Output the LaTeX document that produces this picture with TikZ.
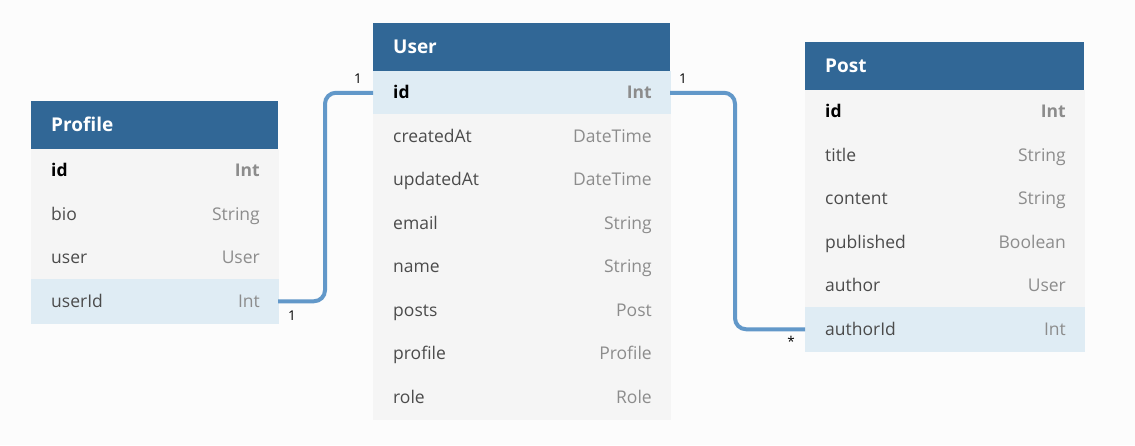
\documentclass[tikz,border=0pt]{standalone}
\usepackage{fontspec}
\setmainfont{Open Sans}
\usetikzlibrary{calc}
\definecolor{hdr}{RGB}{49,103,150}
\definecolor{rowbg}{RGB}{245,245,245}
\definecolor{keybg}{RGB}{223,236,244}
\definecolor{fieldtxt}{RGB}{75,75,75}
\definecolor{typetxt}{RGB}{140,140,140}
\definecolor{link}{RGB}{98,152,201}
\definecolor{canvas}{RGB}{252,252,252}

\tikzset{
  x=1pt, y=-1pt,
  hdrbox/.style={fill=hdr, draw=none, inner sep=0pt, outer sep=0pt, anchor=north west, minimum height=48pt},
  rowbox/.style={fill=rowbg, draw=rowbg, line width=0.6pt, inner sep=0pt, outer sep=0pt, anchor=north west, minimum height=43.5pt},
  keyrow/.style={fill=keybg, draw=keybg},
  titletxt/.style={anchor=west, inner sep=0pt, text=white, font=\bfseries\fontsize{19}{19}\selectfont, text height=13pt, text depth=4pt},
  fieldtxt/.style={anchor=west, inner sep=0pt, text=fieldtxt, font=\fontsize{17.5}{17.5}\selectfont, text height=12.5pt, text depth=4pt},
  typetxt/.style={anchor=east, inner sep=0pt, text=typetxt, font=\fontsize{17.5}{17.5}\selectfont, text height=12.5pt, text depth=4pt},
  idfield/.style={text=black, font=\bfseries\fontsize{17.5}{17.5}\selectfont},
  idtype/.style={font=\bfseries\fontsize{17.5}{17.5}\selectfont},
  relation/.style={draw=link, line width=4pt, rounded corners=11pt},
  card/.style={inner sep=0pt, font=\fontsize{13.5}{13.5}\selectfont, text=black}
}

% \tablehead{name}{x}{y}{width}{title}
\newcommand\tablehead[5]{%
  \node[hdrbox, minimum width=#4pt] (#1) at (#2,#3) {};
  \node[titletxt] (#1-title) at ($(#1.west)+(20,2)$) {#5};
}
% \fieldrow[extra box style]{name}{above}{width}{field}{type}{field style}{type style}
\newcommand\fieldrow[8][]{%
  \node[rowbox, minimum width=#4pt, #1] (#2) at (#3.south west) {};
  \node[fieldtxt, #7] (#2-f) at ($(#2.west)+(20,1.8)$) {#5};
  \node[typetxt, #8] (#2-t) at ($(#2.east)+(-18,1.8)$) {#6};
}

\begin{document}
\begin{tikzpicture}
\fill[canvas] (0,0) rectangle (1135,445);
\useasboundingbox (0,0) rectangle (1135,445);

% Profile
\tablehead{profile}{31}{101}{247}{Profile}
\fieldrow{profile-id}{profile}{247}{id}{Int}{idfield}{idtype}
\fieldrow{profile-bio}{profile-id}{247}{bio}{String}{}{}
\fieldrow{profile-user}{profile-bio}{247}{user}{User}{}{}
\fieldrow[keyrow]{profile-userId}{profile-user}{247}{userId}{Int}{}{}

% User
\tablehead{user}{373}{23}{297}{User}
\fieldrow[keyrow]{user-id}{user}{297}{id}{Int}{idfield}{idtype}
\fieldrow{user-createdAt}{user-id}{297}{createdAt}{DateTime}{}{}
\fieldrow{user-updatedAt}{user-createdAt}{297}{updatedAt}{DateTime}{}{}
\fieldrow{user-email}{user-updatedAt}{297}{email}{String}{}{}
\fieldrow{user-name}{user-email}{297}{name}{String}{}{}
\fieldrow{user-posts}{user-name}{297}{posts}{Post}{}{}
\fieldrow{user-profile}{user-posts}{297}{profile}{Profile}{}{}
\fieldrow{user-role}{user-profile}{297}{role}{Role}{}{}

% Post
\tablehead{post}{805}{42}{279}{Post}
\fieldrow{post-id}{post}{279}{id}{Int}{idfield}{idtype}
\fieldrow{post-title}{post-id}{279}{title}{String}{}{}
\fieldrow{post-content}{post-title}{279}{content}{String}{}{}
\fieldrow{post-published}{post-content}{279}{published}{Boolean}{}{}
\fieldrow{post-author}{post-published}{279}{author}{User}{}{}
\fieldrow[keyrow]{post-authorId}{post-author}{279}{authorId}{Int}{}{}

% Relations (key rows joined by elbow connectors)
\draw[relation] (profile-userId.east) -- ++(47,0) |- (user-id.west);
\draw[relation] (user-id.east) -- ++(65,0) |- (post-authorId.west);

% Cardinalities
\node[card] (c1) at (358,79) {1};
\node[card] (c2) at (292,316) {1};
\node[card] (c3) at (683,79) {1};
\node[card] (c4) at (791,341) {*};
\end{tikzpicture}
\end{document}
